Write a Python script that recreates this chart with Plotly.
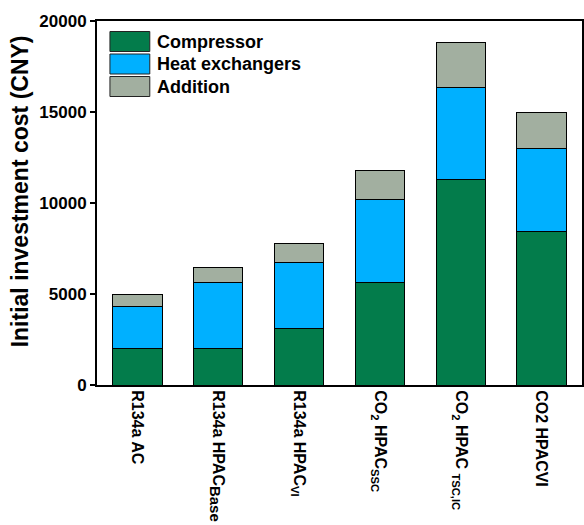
import plotly.graph_objects as go

categories = ["R134a AC", "R134a HPAC<sub><span style=\"font-size:15px\">Base</span></sub>", "R134a HPAC<sub>VI</sub>",
              "CO<sub>2</sub> HPAC<sub>SSC</sub>", "CO<sub>2</sub> HPAC <sub>TSC,IC</sub>", "CO2 HPACVI"]
compressor = [2000, 2000, 3080, 5650, 11300, 8460]
heat_exchangers = [2290, 3610, 3670, 4570, 5060, 4540]
addition = [680, 860, 1000, 1540, 2440, 1980]
series_names = ["Compressor", "Heat exchangers", "Addition"]
colors = ["#037C4B", "#00B0FF", "#A2AFA0"]
y_ticks = [0, 5000, 10000, 15000, 20000]
y_title = "Initial investment cost (CNY)"

W, H = 584, 525
ML, MR, MT, MB = 97, 0, 21, 140
PW, PH = W - ML - MR, H - MT - MB

fig = go.Figure()
for name, vals, col in zip(series_names, [compressor, heat_exchangers, addition], colors):
    fig.add_trace(go.Bar(x=list(range(len(categories))), y=vals, name=name,
                         marker=dict(color=col, line=dict(color="black", width=1)),
                         showlegend=False))

FONT = "Liberation Sans"

def px_x(p):
    return (p - ML) / PW

def px_y(p):
    return 1 - (p - MT) / PH

shapes = []
annotations = []
leg_top = [31.5, 54, 76.5]
for i, (name, col) in enumerate(zip(series_names, colors)):
    y0, y1 = leg_top[i], leg_top[i] + 20
    shapes.append(dict(type="rect", xref="paper", yref="paper",
                       x0=px_x(110), x1=px_x(150), y0=px_y(y1), y1=px_y(y0),
                       fillcolor=col, line=dict(color="#222222", width=1)))
    annotations.append(dict(xref="paper", yref="paper", x=px_x(155), y=px_y((y0 + y1) / 2),
                            text=f"<b>{name}</b>", showarrow=False, xanchor="left", yanchor="middle",
                            font=dict(family=FONT, size=18, color="black")))

annotations.append(dict(xref="paper", yref="paper", x=px_x(20), y=px_y(191),
                        text=f"<b>{y_title}</b>", showarrow=False, textangle=-90,
                        xanchor="center", yanchor="middle",
                        font=dict(family=FONT, size=23, color="black")))

fig.update_layout(
    width=W, height=H,
    margin=dict(l=ML, r=MR, t=MT, b=MB),
    barmode="stack", bargap=0.39,
    plot_bgcolor="white", paper_bgcolor="white",
    font=dict(family=FONT, size=16, color="black"),
    shapes=shapes, annotations=annotations,
    xaxis=dict(tickmode="array", tickvals=list(range(len(categories))),
               ticktext=[f"<b>{c}</b>" for c in categories], tickangle=90,
               range=[-0.5, 5.5], showline=True, linecolor="black", linewidth=2,
               mirror=True, ticks="", showgrid=False, zeroline=False,
               tickfont=dict(family=FONT, size=16, color="black")),
    yaxis=dict(range=[0, 20000], tickvals=y_ticks,
               ticktext=[f"<b>{v}</b>" for v in y_ticks],
               showline=True, linecolor="black", linewidth=2, mirror=True,
               ticks="outside", ticklen=5, tickwidth=2, tickcolor="black",
               showgrid=False, zeroline=False,
               tickfont=dict(family=FONT, size=17, color="black")),
)

fig.write_html("out.html")
